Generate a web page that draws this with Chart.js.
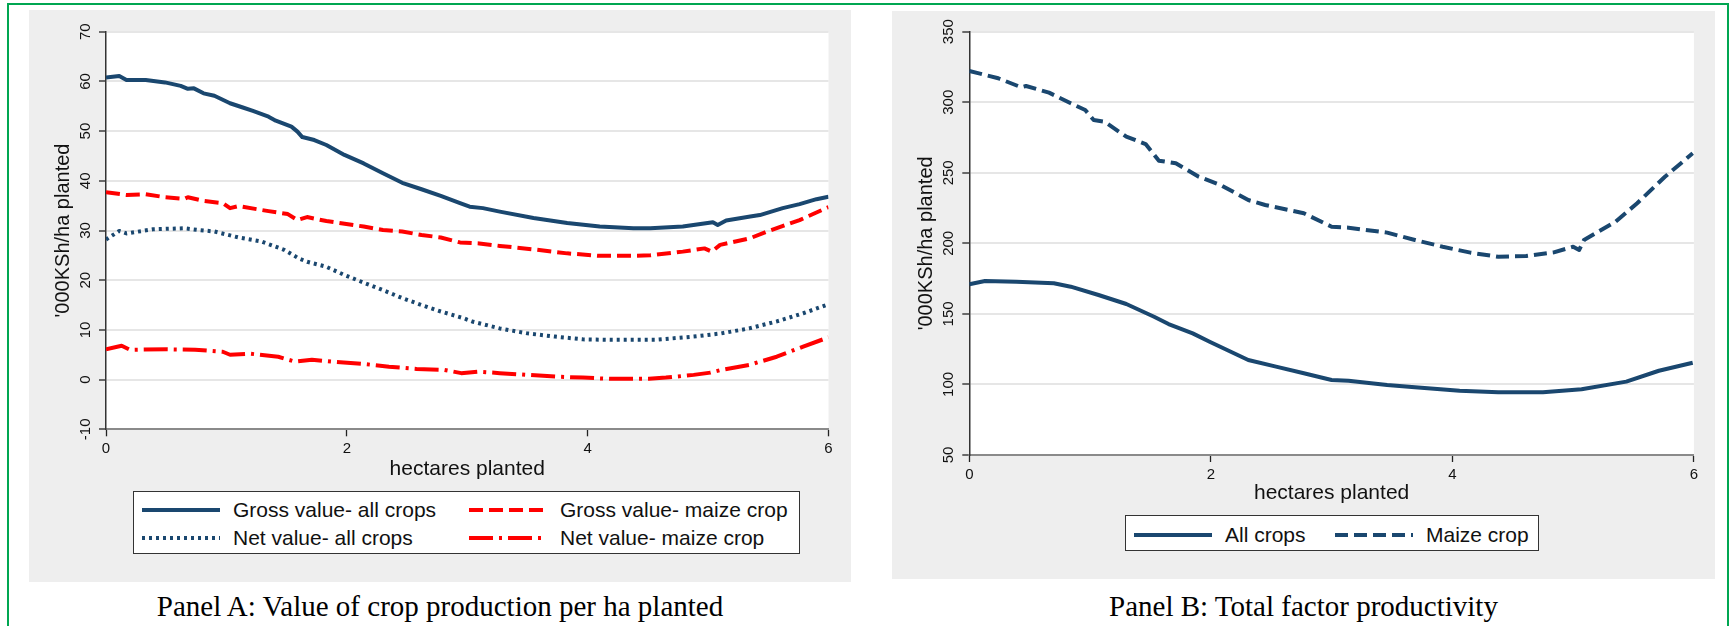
<!DOCTYPE html>
<html lang="en">
<head>
  <meta charset="UTF-8" />
  <title>Value of crop production and total factor productivity</title>
  <script src="https://cdn.jsdelivr.net/npm/chart.js"></script>
  <style>
    body {
      margin: 0;
      width: 1730px;
      height: 626px;
      overflow: hidden;
      position: relative;
      background: #fff;
      font-family: 'Liberation Sans', Arial, sans-serif;
    }
    .frame {
      position: absolute;
      left: 7px;
      top: 3px;
      width: 1718px;
      height: 700px;
      border: 2px solid #00a651;
    }
    canvas { position: absolute; }
    .legend {
      position: absolute;
      background: #fff;
      border: 1.5px solid #333;
      box-sizing: border-box;
    }
    .item {
      position: absolute;
      height: 26px;
      display: flex;
      align-items: center;
      font-size: 21px;
      color: #111;
      white-space: nowrap;
    }
    .caption {
      position: absolute;
      font-family: 'Liberation Serif', 'Times New Roman', serif;
      font-size: 29px;
      line-height: 29px;
      text-align: center;
      color: #000;
    }
  </style>
</head>
<body>
  <div class="frame"></div>
  <canvas id="panelA" width="822" height="572" style="left:29px;top:10px"></canvas>
  <canvas id="panelB" width="823" height="568" style="left:892px;top:11px"></canvas>
  <div class="legend" id="legendA" style="left:133px;top:491px;width:667px;height:63px"></div>
  <div class="legend" id="legendB" style="left:1125px;top:515px;width:414px;height:36px"></div>
  <div class="caption" style="left:29px;top:592px;width:822px">Panel A: Value of crop production per ha planted</div>
  <div class="caption" style="left:892px;top:592px;width:823px">Panel B: Total factor productivity</div>

  <script>
    // ---- data ----
    const xTicks = [0, 2, 4, 6];
    const yTicksA = [-10, 0, 10, 20, 30, 40, 50, 60, 70];
    const yTicksB = [50, 100, 150, 200, 250, 300, 350];

    // Panel A: gross value, all crops
    const haGrossAll = [0, 0.11, 0.17, 0.33, 0.49, 0.62, 0.68, 0.73, 0.81, 0.90, 1.03, 1.13, 1.22, 1.35, 1.41, 1.54, 1.59, 1.63, 1.73, 1.83, 1.98, 2.14, 2.30, 2.46, 2.62, 2.78, 2.94, 3.02, 3.13, 3.27, 3.55, 3.83, 4.10, 4.38, 4.52, 4.79, 5.04, 5.08, 5.15, 5.35, 5.43, 5.62, 5.76, 5.90, 6.0];
    const grossAll = [60.8, 61.1, 60.3, 60.3, 59.8, 59.1, 58.5, 58.6, 57.6, 57.1, 55.6, 54.8, 54.05, 52.9, 52.1, 50.9, 49.9, 48.8, 48.2, 47.2, 45.2, 43.5, 41.5, 39.6, 38.3, 36.95, 35.5, 34.8, 34.5, 33.8, 32.5, 31.5, 30.8, 30.45, 30.45, 30.8, 31.65, 31.1, 32.0, 32.8, 33.1, 34.5, 35.3, 36.3, 36.8];

    // Panel A: gross value, maize crop
    const haGrossMaize = [0, 0.17, 0.33, 0.49, 0.65, 0.68, 0.81, 0.97, 1.03, 1.10, 1.35, 1.51, 1.59, 1.67, 1.83, 2.14, 2.30, 2.46, 2.62, 2.78, 2.94, 3.10, 3.27, 3.55, 3.83, 4.10, 4.38, 4.52, 4.79, 4.97, 5.03, 5.10, 5.35, 5.49, 5.76, 6.0];
    const grossMaize = [37.7, 37.15, 37.3, 36.7, 36.35, 36.7, 35.95, 35.5, 34.5, 34.9, 33.9, 33.3, 32.1, 32.7, 31.9, 30.8, 30.1, 29.8, 29.1, 28.6, 27.6, 27.4, 26.9, 26.2, 25.4, 24.9, 24.9, 25.0, 25.75, 26.4, 25.75, 27.1, 28.45, 29.8, 32.1, 34.7];

    // Panel A: net value, all crops
    const haNetAll = [0, 0.11, 0.17, 0.39, 0.65, 0.77, 0.90, 1.10, 1.29, 1.48, 1.60, 1.67, 1.83, 1.98, 2.14, 2.30, 2.46, 2.62, 2.78, 2.97, 3.04, 3.27, 3.50, 3.73, 3.96, 4.19, 4.56, 4.88, 5.11, 5.34, 5.57, 5.79, 5.98];
    const netAll = [28.2, 29.9, 29.4, 30.25, 30.45, 30.1, 29.8, 28.6, 27.8, 26.1, 24.4, 23.7, 22.7, 21.05, 19.5, 18.0, 16.4, 15.0, 13.7, 12.35, 11.7, 10.3, 9.3, 8.65, 8.1, 8.0, 8.0, 8.65, 9.3, 10.3, 11.7, 13.35, 15.0];

    // Panel A: net value, maize crop
    const haNetMaize = [0, 0.13, 0.2, 0.51, 0.74, 0.97, 1.03, 1.2, 1.43, 1.57, 1.71, 1.89, 2.12, 2.35, 2.58, 2.81, 2.95, 3.09, 3.27, 3.50, 3.73, 3.96, 4.19, 4.51, 4.65, 4.88, 5.02, 5.11, 5.34, 5.57, 5.79, 6.0];
    const netMaize = [6.1, 6.8, 6.0, 6.1, 6.0, 5.6, 5.0, 5.2, 4.6, 3.6, 4.0, 3.6, 3.2, 2.6, 2.15, 1.95, 1.3, 1.6, 1.3, 0.95, 0.6, 0.4, 0.15, 0.15, 0.4, 0.95, 1.4, 1.95, 2.95, 4.6, 6.65, 8.5];

    // Panel B: total factor productivity, all crops
    const haTfpAll = [0, 0.13, 0.39, 0.70, 0.84, 1.07, 1.30, 1.53, 1.65, 1.85, 1.99, 2.31, 2.54, 2.77, 3.0, 3.14, 3.46, 3.69, 4.06, 4.38, 4.75, 5.07, 5.44, 5.71, 5.99];
    const tfpAll = [171, 173.3, 172.8, 171.7, 169.3, 163.4, 157, 148, 142.8, 136.2, 130.3, 117.3, 112.6, 107.9, 103.2, 102.7, 99.6, 98, 95.6, 94.4, 94.4, 96.6, 102, 109.7, 115.4];

    // Panel B: total factor productivity, maize crop
    const haTfpMaize = [0, 0.08, 0.24, 0.43, 0.47, 0.66, 0.84, 0.96, 1.03, 1.12, 1.30, 1.46, 1.57, 1.71, 1.90, 2.08, 2.31, 2.45, 2.77, 3.0, 3.14, 3.46, 3.69, 3.92, 4.15, 4.38, 4.61, 4.84, 5.0, 5.05, 5.09, 5.35, 5.53, 5.76, 5.99];
    const tfpMaize = [322.1, 320.5, 317, 310.6, 311.5, 306.8, 299.3, 294.5, 287.4, 286.2, 275.6, 270.4, 258.6, 256.7, 247.2, 241.4, 230.7, 227.2, 221.3, 211.8, 211.1, 207.6, 202.4, 197.6, 193.4, 190.5, 191, 193.6, 197.6, 195.3, 202.4, 215.3, 228.4, 247.2, 263.8];

    const NAVY = '#1a476f';
    const RED = '#ff0000';

    Chart.defaults.font.family = "'Liberation Sans', Arial, sans-serif";
    Chart.defaults.color = '#111';

    function points(xs, ys) {
      return xs.map((x, i) => ({ x: x, y: ys[i] }));
    }

    function series(label, xs, ys, color, dash) {
      return {
        label: label,
        data: points(xs, ys),
        borderColor: color,
        borderWidth: 4,
        borderDash: dash,
        borderCapStyle: 'butt',
        borderJoinStyle: 'round',
        pointRadius: 0,
        tension: 0,
        fill: false
      };
    }

    // grey graph region with a white plot region
    const panelBackground = {
      id: 'panelBackground',
      beforeDraw(chart) {
        const { ctx, chartArea: a, width, height } = chart;
        ctx.save();
        ctx.fillStyle = '#eeeeee';
        ctx.fillRect(0, 0, width, height);
        ctx.fillStyle = '#ffffff';
        ctx.fillRect(a.left, a.top, a.right - a.left, a.bottom - a.top);
        ctx.restore();
      }
    };

    // Stata style vertical y tick labels
    const verticalTicks = {
      id: 'verticalTicks',
      afterDraw(chart) {
        const s = chart.scales.y;
        const ctx = chart.ctx;
        ctx.save();
        ctx.font = "15px 'Liberation Sans', Arial, sans-serif";
        ctx.fillStyle = '#111';
        ctx.textAlign = 'center';
        ctx.textBaseline = 'middle';
        s.ticks.forEach(t => {
          ctx.save();
          ctx.translate(s.right - 20, s.getPixelForValue(t.value));
          ctx.rotate(-Math.PI / 2);
          ctx.fillText(String(t.value), 0, 0);
          ctx.restore();
        });
        ctx.restore();
      }
    };

    function makeScales(yTicks, yWidth, xHeight, xTitlePad) {
      return {
        x: {
          type: 'linear',
          min: 0,
          max: 6,
          afterBuildTicks: s => { s.ticks = xTicks.map(v => ({ value: v })); },
          afterFit: s => { s.height = xHeight; },
          grid: { drawOnChartArea: false, tickLength: 7, tickColor: '#222', tickWidth: 1.3 },
          border: { color: '#8a8a8a', width: 2 },
          ticks: { font: { size: 15 }, padding: 4, maxRotation: 0, color: '#111' },
          title: { display: true, text: 'hectares planted', font: { size: 21 }, color: '#111', padding: { top: 0, bottom: xTitlePad } }
        },
        y: {
          type: 'linear',
          min: yTicks[0],
          max: yTicks[yTicks.length - 1],
          afterBuildTicks: s => { s.ticks = yTicks.map(v => ({ value: v })); },
          afterFit: s => { s.width = yWidth; },
          grid: { color: '#e6e6e6', lineWidth: 2, tickLength: 7, tickColor: '#222', tickWidth: 1.3 },
          border: { color: '#333', width: 1.5 },
          ticks: { display: false },
          title: { display: true, text: "'000KSh/ha planted", font: { size: 20 }, color: '#111', padding: { top: 22, bottom: 0 } }
        }
      };
    }

    const chartA = new Chart(document.getElementById('panelA'), {
      type: 'line',
      data: {
        datasets: [
          series('Gross value- all crops', haGrossAll, grossAll, NAVY, []),
          series('Gross value- maize crop', haGrossMaize, grossMaize, RED, [14, 6]),
          series('Net value- all crops', haNetAll, netAll, NAVY, [3, 4]),
          series('Net value- maize crop', haNetMaize, netMaize, RED, [24, 6, 3, 6])
        ]
      },
      options: {
        responsive: false,
        animation: false,
        layout: { padding: { top: 21.7, right: 22.5, left: 0, bottom: 0 } },
        scales: makeScales(yTicksA, 77, 152.7, 100.4),
        plugins: { legend: { display: false }, tooltip: { enabled: false } }
      },
      plugins: [panelBackground, verticalTicks]
    });

    const chartB = new Chart(document.getElementById('panelB'), {
      type: 'line',
      data: {
        datasets: [
          series('All crops', haTfpAll, tfpAll, NAVY, []),
          series('Maize crop', haTfpMaize, tfpMaize, NAVY, [13, 6])
        ]
      },
      options: {
        responsive: false,
        animation: false,
        layout: { padding: { top: 20.7, right: 21.1, left: 0, bottom: 0 } },
        scales: makeScales(yTicksB, 77.3, 124, 73.4),
        plugins: { legend: { display: false }, tooltip: { enabled: false } }
      },
      plugins: [panelBackground, verticalTicks]
    });

    // boxed legends built from the dataset styles
    function buildLegend(el, chart, places) {
      chart.data.datasets.forEach((ds, i) => {
        const p = places[i];
        const item = document.createElement('div');
        item.className = 'item';
        item.style.left = p[0] + 'px';
        item.style.top = (p[1] - 13) + 'px';
        const svg = document.createElementNS('http://www.w3.org/2000/svg', 'svg');
        svg.setAttribute('width', '78');
        svg.setAttribute('height', '10');
        svg.style.marginRight = '13px';
        const line = document.createElementNS('http://www.w3.org/2000/svg', 'line');
        line.setAttribute('x1', '0');
        line.setAttribute('x2', '78');
        line.setAttribute('y1', '5');
        line.setAttribute('y2', '5');
        line.setAttribute('stroke', ds.borderColor);
        line.setAttribute('stroke-width', ds.borderWidth);
        if (ds.borderDash.length) line.setAttribute('stroke-dasharray', ds.borderDash.join(' '));
        svg.appendChild(line);
        item.appendChild(svg);
        item.appendChild(document.createTextNode(ds.label));
        el.appendChild(item);
      });
    }

    buildLegend(document.getElementById('legendA'), chartA, [[8, 18], [335, 18], [8, 46], [335, 46]]);
    buildLegend(document.getElementById('legendB'), chartB, [[8, 19], [209, 19]]);
  </script>
</body>
</html>
